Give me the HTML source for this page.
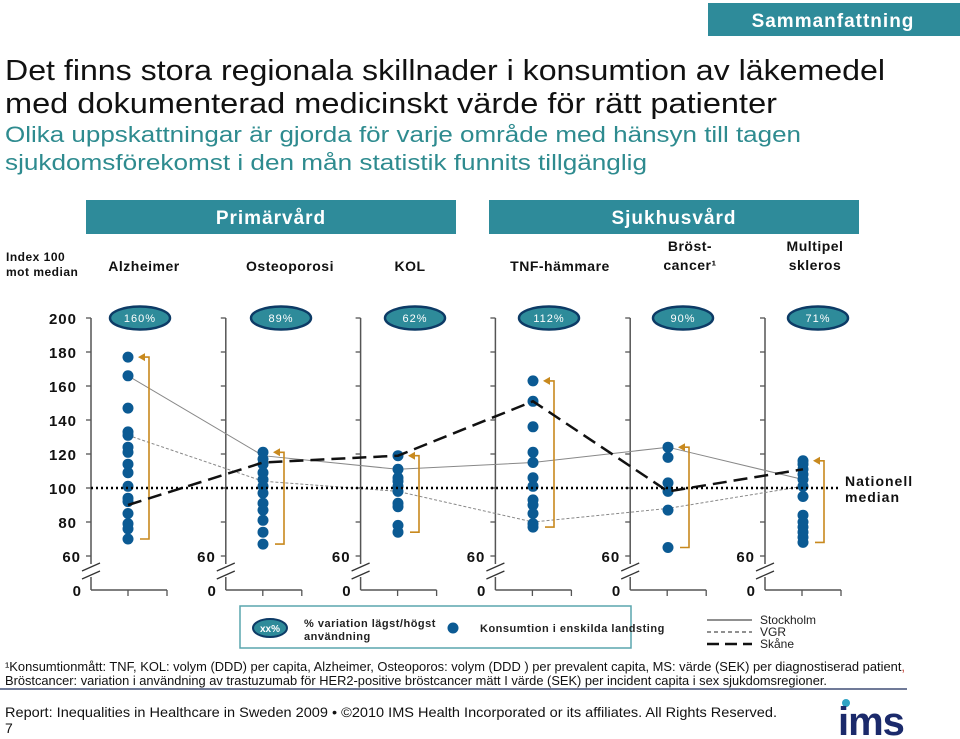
<!DOCTYPE html>
<html><head><meta charset="utf-8"><style>
html,body{margin:0;padding:0;background:#fff;}
svg{display:block;font-family:"Liberation Sans",sans-serif;}
</style></head><body>
<svg id="chart" width="960" height="739" viewBox="0 0 960 739" xmlns="http://www.w3.org/2000/svg">
<rect x="708" y="3" width="252" height="33" fill="#2e8b9a"/>
<text x="833" y="27" font-size="19" font-weight="bold" fill="#fff" text-anchor="middle" letter-spacing="1">Sammanfattning</text>
<text x="5" y="80" font-size="29" fill="#111" textLength="880" lengthAdjust="spacingAndGlyphs">Det finns stora regionala skillnader i konsumtion av läkemedel</text>
<text x="5" y="113" font-size="29" fill="#111" textLength="772" lengthAdjust="spacingAndGlyphs">med dokumenterad medicinskt värde för rätt patienter</text>
<text x="5" y="142" font-size="22" fill="#2e8b8f" textLength="796" lengthAdjust="spacingAndGlyphs">Olika uppskattningar är gjorda för varje område med hänsyn till tagen</text>
<text x="5" y="170" font-size="22" fill="#2e8b8f" textLength="642" lengthAdjust="spacingAndGlyphs">sjukdomsförekomst i den mån statistik funnits tillgänglig</text>
<rect x="86" y="200" width="370" height="34" fill="#2e8b9a"/>
<text x="271" y="224" font-size="19" font-weight="bold" fill="#fff" text-anchor="middle" letter-spacing="1">Primärvård</text>
<rect x="489" y="200" width="370" height="34" fill="#2e8b9a"/>
<text x="674" y="224" font-size="19" font-weight="bold" fill="#fff" text-anchor="middle" letter-spacing="1">Sjukhusvård</text>
<text font-size="12" font-weight="bold" fill="#111" letter-spacing="0.5"><tspan x="6" y="261">Index 100</tspan><tspan x="6" y="276">mot median</tspan></text>
<g id="cats" font-size="14" font-weight="bold" fill="#111" text-anchor="middle" letter-spacing="0.5"></g>
<g id="plot"></g>
<line x1="91" y1="488" x2="838" y2="488" stroke="#000" stroke-width="2.5" stroke-dasharray="2,3"/>
<text font-size="14" font-weight="bold" fill="#111" letter-spacing="1"><tspan x="845" y="486">Nationell</tspan><tspan x="845" y="502">median</tspan></text>
<g>
<rect x="240" y="606" width="391" height="42" fill="#fff" stroke="#5aa5ad" stroke-width="1.5"/>
<ellipse cx="270" cy="628" rx="17" ry="9" fill="#2e8b9a" stroke="#0d3b66" stroke-width="2"/>
<text x="270" y="632" font-size="10" fill="#fff" text-anchor="middle" font-weight="bold">xx%</text>
<text font-size="11" font-weight="bold" fill="#222" letter-spacing="0.5"><tspan x="304" y="627">% variation lägst/högst</tspan><tspan x="304" y="640">användning</tspan></text>
<circle cx="453" cy="628" r="5.5" fill="#0b5a93"/>
<text x="480" y="632" font-size="11" font-weight="bold" fill="#222" letter-spacing="0.5">Konsumtion i enskilda landsting</text>
</g>
<g font-size="12" fill="#222">
<line x1="707" y1="620" x2="752" y2="620" stroke="#222" stroke-width="1"/>
<text x="760" y="624">Stockholm</text>
<line x1="707" y1="632" x2="752" y2="632" stroke="#222" stroke-width="1" stroke-dasharray="4,3"/>
<text x="760" y="636">VGR</text>
<line x1="707" y1="644" x2="752" y2="644" stroke="#111" stroke-width="2.5" stroke-dasharray="12,6"/>
<text x="760" y="648">Skåne</text>
</g>
<text x="5" y="671" font-size="12.5" fill="#111" textLength="900" lengthAdjust="spacingAndGlyphs">¹Konsumtionmått: TNF, KOL: volym (DDD) per capita, Alzheimer, Osteoporos: volym (DDD ) per prevalent capita, MS: värde (SEK) per diagnostiserad patient<tspan fill="#c0392b">,</tspan></text>
<text x="5" y="685" font-size="12.5" fill="#111" textLength="822" lengthAdjust="spacingAndGlyphs">Bröstcancer: variation i användning av trastuzumab för HER2-positive bröstcancer mätt I värde (SEK) per incident capita i sex sjukdomsregioner.</text>
<line x1="0" y1="689" x2="907" y2="689" stroke="#1b2a5a" stroke-width="1.2"/>
<text x="5" y="717" font-size="14" fill="#111" textLength="772" lengthAdjust="spacingAndGlyphs">Report: Inequalities in Healthcare in Sweden 2009 • ©2010 IMS Health Incorporated or its affiliates. All Rights Reserved.</text>
<text x="5" y="733" font-size="14" fill="#111">7</text>
<g>
<circle cx="846" cy="703" r="4" fill="#2ea3c4"/>
<text x="838" y="735" font-size="40" font-weight="bold" fill="#1b2a6b" letter-spacing="-1">ims</text>
</g>
</svg>
<script>
const categories = ["Alzheimer","Osteoporosi","KOL","TNF-hämmare","Bröst-|cancer¹","Multipel|skleros"];
const variationLabels = ["160%","89%","62%","112%","90%","71%"];
const countyValues = [
 [177,166,147,133,131,124,121,114,109,101,94,92,85,79,76,70],
 [121,117,114,109,105,101,97,91,87,81,74,67],
 [119,111,106,104,101,98,91,89,78,74],
 [163,151,136,121,115,106,101,93,90,85,79,77],
 [124,118,103,98,87,65],
 [116,114,111,108,105,101,95,84,80,77,74,71,68]
];
const stockholm = [166,119,111,115,124,105];
const vgr = [131,104,98,80,88,101];
const skane = [90,115,119,151,98,111];
const yTicks = [80,100,120,140,160,180,200];

const NS="http://www.w3.org/2000/svg";
const plot=document.getElementById('plot');
const cats=document.getElementById('cats');
function yScale(v){return 488-(v-100)*1.7;}
function axisX(i){return 91+i*134.8;}
function colX(i){return 128+i*135;}
function mk(tag,attrs,parent){const e=document.createElementNS(NS,tag);for(const k in attrs)e.setAttribute(k,attrs[k]);(parent||plot).appendChild(e);return e;}

const catX=[144,290,410,560,690,815];
categories.forEach((c,i)=>{
  const parts=c.split('|');
  const t=mk('text',{x:catX[i],y:parts.length>1?251:271},cats);
  
  
  parts.forEach((p,j)=>{const s=mk('tspan',{x:catX[i],dy:j?19:0},t);s.textContent=p;});
});

const ovalX=[140,281,415,549,683,818];
categories.forEach((c,i)=>{
  const ax=axisX(i);
  const g=mk('g',{});
  
  
  mk('line',{x1:ax,y1:yScale(200),x2:ax,y2:564,stroke:'#555','stroke-width':1.5},g);
  mk('line',{x1:ax,y1:577,x2:ax,y2:590,stroke:'#555','stroke-width':1.5},g);
  mk('line',{x1:ax-9,y1:571,x2:ax+9,y2:563,stroke:'#333','stroke-width':1.3},g);
  mk('line',{x1:ax-9,y1:579,x2:ax+9,y2:571,stroke:'#333','stroke-width':1.3},g);
  mk('line',{x1:ax,y1:590,x2:ax+76,y2:590,stroke:'#555','stroke-width':1.5},g);
  mk('line',{x1:ax+37,y1:590,x2:ax+37,y2:596,stroke:'#555','stroke-width':1.3},g);
  mk('line',{x1:ax+76,y1:590,x2:ax+76,y2:596,stroke:'#555','stroke-width':1.3},g);
  [60].concat(yTicks).forEach(v=>{mk('line',{x1:ax-5,y1:yScale(v),x2:ax,y2:yScale(v),stroke:'#555','stroke-width':1.3},g);});
  const t60=mk('text',{x:ax-10,y:yScale(60)+6,'font-size':15,'font-weight':'bold','text-anchor':'end',fill:'#111','letter-spacing':1},g);
  t60.textContent='60';
  const t0=mk('text',{x:ax-10,y:596,'font-size':15,'font-weight':'bold','text-anchor':'end',fill:'#111'},g);
  t0.textContent='0';
  if(i===0){
    yTicks.forEach(v=>{
      const t=mk('text',{x:ax-14,y:yScale(v)+6,'font-size':15,'font-weight':'bold','text-anchor':'end',fill:'#111','letter-spacing':1},g);
      
      
      t.textContent=v;
    });
  }
  const o=mk('ellipse',{cx:ovalX[i],cy:yScale(200),rx:30,ry:11.5,fill:'#2e8b9a',stroke:'#0d3b66','stroke-width':2.5});
  
  
  const ot=mk('text',{x:ovalX[i],y:yScale(200)+4,'font-size':11,fill:'#fff','text-anchor':'middle','letter-spacing':1});
  
  
  ot.textContent=variationLabels[i];
});

function series(arr,name,attrs){
  const pts=arr.map((v,i)=>colX(i)+','+yScale(v)).join(' ');
  const p=mk('polyline',Object.assign({points:pts,fill:'none'},attrs));
  
  
}
series(stockholm,'stockholm-line',{stroke:'#888','stroke-width':1});
series(vgr,'vgr-line',{stroke:'#888','stroke-width':1,'stroke-dasharray':'3,2'});

countyValues.forEach((vals,i)=>{
  const x=colX(i);
  const hi=Math.max(...vals), lo=Math.min(...vals);
  const b=mk('polyline',{points:`${x+12},${yScale(hi)} ${x+21},${yScale(hi)} ${x+21},${yScale(lo)} ${x+12},${yScale(lo)}`,fill:'none',stroke:'#c8891e','stroke-width':1.6});
  
  
  const a=mk('polygon',{points:`${x+10},${yScale(hi)} ${x+17},${yScale(hi)-4} ${x+17},${yScale(hi)+4}`,fill:'#c8891e'});
  
  
  vals.forEach(v=>{
    const c=mk('circle',{cx:x,cy:yScale(v),r:5.5,fill:'#0b5a93'});
    
    
  });
});
series(skane,'skane-line',{stroke:'#111','stroke-width':2.5,'stroke-dasharray':'14,7'});
</script>
</body></html>
